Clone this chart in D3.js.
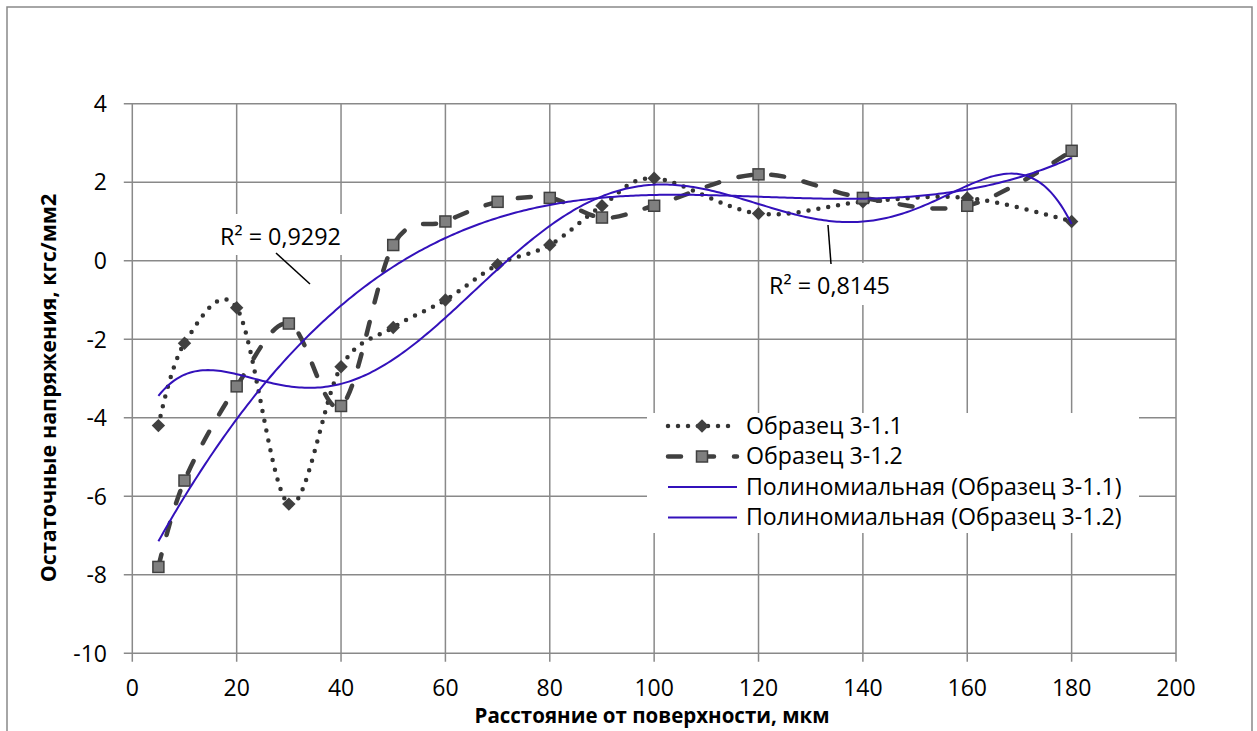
<!DOCTYPE html>
<html><head><meta charset="utf-8">
<script src="https://cdn.jsdelivr.net/npm/d3@7"></script>
<style>html,body{margin:0;padding:0;background:#fff}svg{display:block;font-family:'Open Sans',sans-serif}</style>
</head><body><svg id="c" width="1257" height="731"></svg>
<script>
const xVals = [5,10,20,30,40,50,60,70,80,90,100,120,140,160,180];
const series1 = [-4.2,-2.1,-1.2,-6.2,-2.7,-1.7,-1.0,-0.1,0.4,1.4,2.1,1.2,1.5,1.6,1.0];
const series2 = [-7.8,-5.6,-3.2,-1.6,-3.7,0.4,1.0,1.5,1.6,1.1,1.4,2.2,1.6,1.4,2.8];
const seriesNames = ["Образец 3-1.1","Образец 3-1.2"];
const trendNames = ["Полиномиальная (Образец 3-1.1)","Полиномиальная (Образец 3-1.2)"];
const trendOrders = [6,3];
const r2Labels = ["R² = 0,8145","R² = 0,9292"];
const xTicks = [0,20,40,60,80,100,120,140,160,180,200];
const yTicks = [-10,-8,-6,-4,-2,0,2,4];
const xTitle = "Расстояние от поверхности, мкм";
const yTitle = "Остаточные напряжения, кгс/мм2";

const svg = d3.select("#c");
const W=1257,H=731;
const L=132.3,R=1176,T=103.7,B=653.3;
const x = d3.scaleLinear().domain([0,200]).range([L,R]);
const y = d3.scaleLinear().domain([-10,4]).range([B,T]);
const gridC="#898989", dark="#404040", blue="#3311BB";

svg.append("rect").attr("width",W).attr("height",H).attr("fill","#fff");
svg.append("rect").attr("x",7).attr("y",7).attr("width",1245).attr("height",760)
  .attr("fill","none").attr("stroke",gridC).attr("stroke-width",1.5);

// grid
const g = svg.append("g");
g.selectAll(".gx").data(xTicks).join("line").attr("x1",d=>x(d)).attr("x2",d=>x(d))
 .attr("y1",T).attr("y2",B+8.5).attr("stroke",gridC).attr("stroke-width",1.5);
g.selectAll(".gy").data(yTicks).join("line").attr("y1",d=>y(d)).attr("y2",d=>y(d))
 .attr("x1",L-8.5).attr("x2",R).attr("stroke",gridC).attr("stroke-width",1.5);

// tick labels
svg.append("g").selectAll("text").data(yTicks).join("text")
 .attr("x",107).attr("y",d=>y(d)).attr("dy","0.36em").attr("text-anchor","end")
 .attr("font-size",23).attr("fill","#000").text(d=>d);
svg.append("g").selectAll("text").data(xTicks).join("text")
 .attr("x",d=>x(d)).attr("y",688).attr("dy","0.36em").attr("text-anchor","middle")
 .attr("font-size",23).attr("fill","#000").text(d=>d);

// titles
svg.append("text").attr("x",652).attr("y",716).attr("dy","0.36em").attr("text-anchor","middle")
 .attr("font-weight","bold").attr("font-size",20.5).text(xTitle);
svg.append("text").attr("transform","translate(48,388) rotate(-90)").attr("dy","0.36em")
 .attr("text-anchor","middle").attr("font-weight","bold").attr("font-size",21.5).text(yTitle);

// polynomial least-squares fit (Excel-style trendline)
function polyfit(xs, ys, n){
  const m=n+1; const A=Array.from({length:m},()=>new Array(m+1).fill(0));
  xs.forEach((xv,i)=>{const t=xv/100;
    for(let r=0;r<m;r++){for(let c=0;c<m;c++)A[r][c]+=Math.pow(t,r+c);A[r][m]+=ys[i]*Math.pow(t,r);}});
  for(let i=0;i<m;i++){let p=i;for(let k=i+1;k<m;k++)if(Math.abs(A[k][i])>Math.abs(A[p][i]))p=k;
    [A[i],A[p]]=[A[p],A[i]];
    for(let k=i+1;k<m;k++){const f=A[k][i]/A[i][i];for(let c=i;c<=m;c++)A[k][c]-=f*A[i][c];}}
  const co=new Array(m).fill(0);
  for(let i=m-1;i>=0;i--){let s=A[i][m];for(let c=i+1;c<m;c++)s-=A[i][c]*co[c];co[i]=s/A[i][i];}
  return xv=>{const t=xv/100;let s=0;for(let k=m-1;k>=0;k--)s=s*t+co[k];return s;};
}

const smooth = d3.line().x(d=>x(d[0])).y(d=>y(d[1])).curve(d3.curveCardinal.tension(0));
const d1 = xVals.map((v,i)=>[v,series1[i]]);
const d2 = xVals.map((v,i)=>[v,series2[i]]);

const dotStyle = s=>s.attr("fill","none").attr("stroke","#333").attr("stroke-width",4.5)
  .attr("stroke-dasharray","0 10").attr("stroke-linecap","round");
const dashStyle = s=>s.attr("fill","none").attr("stroke",dark).attr("stroke-width",4.5)
  .attr("stroke-dasharray","13 20").attr("stroke-linecap","round");

svg.append("path").attr("d",smooth(d1)).call(dotStyle);
const diamond = d3.symbol().type(d3.symbolDiamond2).size(115);
svg.append("g").selectAll("path").data(d1).join("path")
 .attr("transform",d=>`translate(${x(d[0])},${y(d[1])})`).attr("d",diamond).attr("fill",dark);

svg.append("path").attr("d",smooth(d2)).call(dashStyle);
svg.append("g").selectAll("rect").data(d2).join("rect")
 .attr("x",d=>x(d[0])-5.5).attr("y",d=>y(d[1])-5.5).attr("width",11).attr("height",11)
 .attr("fill","#7f7f7f").attr("stroke",dark).attr("stroke-width",1.5);

// trendlines
const tx = d3.range(5,180.001,0.5);
const lin = d3.line().x(d=>x(d[0])).y(d=>y(d[1]));
[series1,series2].forEach((s,i)=>{
  const f=polyfit(xVals,s,trendOrders[i]);
  svg.append("path").attr("d",lin(tx.map(v=>[v,f(v)]))).attr("fill","none")
   .attr("stroke",blue).attr("stroke-width",2);
});

// R2 labels
function label(txt, x0, base, lx1, ly1, lx2, ly2, bx, by, bw, bh){
  svg.append("rect").attr("x",bx).attr("y",by).attr("width",bw).attr("height",bh).attr("fill","#fff");
  svg.append("line").attr("x1",lx1).attr("y1",ly1).attr("x2",lx2).attr("y2",ly2)
   .attr("stroke","#000").attr("stroke-width",1.5);
  const t=svg.append("text").attr("x",x0).attr("y",base).attr("font-size",23).text(txt);
  const w=t.node().getComputedTextLength(); t.attr("font-size",23*121/w);
}
label(r2Labels[1],220,245,276,253,310,284,214,214,132,41);
label(r2Labels[0],769,294,828,225,831,264,762,263,134,42);

// legend
const lg = svg.append("g");
lg.append("rect").attr("x",647).attr("y",413).attr("width",492).attr("height",120).attr("fill","#fff");
const names=[...seriesNames,...trendNames];
const bases=[433.5,464,494.5,525];
const lt = lg.selectAll("text").data(names).join("text").attr("x",746).attr("y",(d,i)=>bases[i])
  .attr("font-size",23).text(d=>d);
const w3 = lt.nodes()[2].getComputedTextLength();
lt.attr("font-size",23*376/w3);
names.forEach((n,i)=>{
  const yy=bases[i]-7.5;
  const ln=lg.append("path").attr("d",`M668,${yy}H737`);
  if(i===0){ln.call(dotStyle);lg.append("path").attr("transform",`translate(702,${yy})`).attr("d",diamond).attr("fill",dark);}
  else if(i===1){ln.call(dashStyle);
    lg.append("rect").attr("x",696.5).attr("y",yy-5.5).attr("width",11).attr("height",11)
     .attr("fill","#7f7f7f").attr("stroke",dark).attr("stroke-width",1.5);}
  else ln.attr("stroke",blue).attr("stroke-width",2).attr("fill","none");
});
</script></body></html>
